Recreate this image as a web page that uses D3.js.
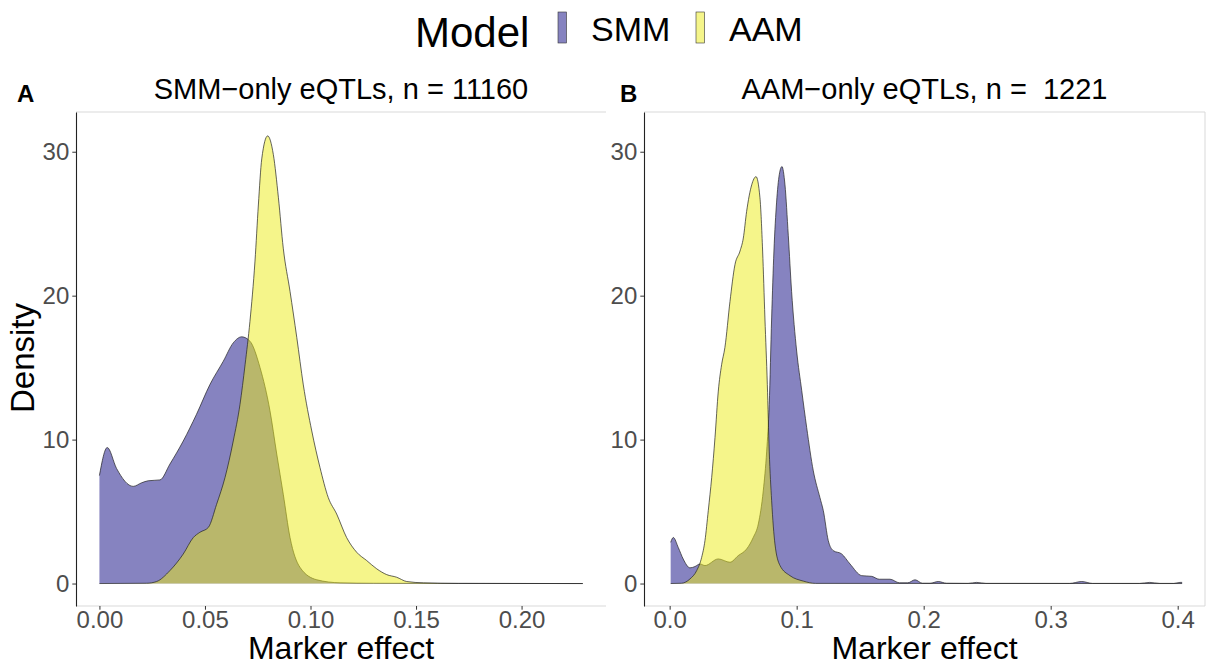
<!DOCTYPE html>
<html>
<head>
<meta charset="utf-8">
<script src="https://cdnjs.cloudflare.com/ajax/libs/d3/7.8.5/d3.min.js"></script>
<style>
  body { margin: 0; background: #fff; }
  text { font-family: "Liberation Sans", Arial, sans-serif; }
</style>
</head>
<body>
<script>
// series names and colours
var models = ["SMM", "AAM"];
var baseColors = ["#0D0781", "#EBEB15"];
var keyColors = ["#8683C0", "#F5F58A"];

// panel A: SMM-only eQTLs (marker effect, density)
var xA_smm = [0, 0.0037, 0.0081, 0.016, 0.02, 0.0231, 0.0287, 0.0334, 0.0397, 0.046, 0.0524, 0.0587, 0.0634, 0.0674, 0.0713, 0.0761, 0.0808, 0.084, 0.0871, 0.0903, 0.095, 0.103, 0.114, 0.13, 0.16, 0.229];
var dA_smm = [7.5, 9.45, 8.0, 6.75, 7.0, 7.14, 7.2, 8.3, 9.9, 11.76, 13.84, 15.45, 16.72, 17.14, 16.84, 15.0, 12.0, 9.0, 6.2, 3.2, 1.13, 0.26, 0.05, 0.02, 0.01, 0];
var xA_aam = [0, 0.0224, 0.0271, 0.0334, 0.0397, 0.0445, 0.0476, 0.0516, 0.0555, 0.0595, 0.0634, 0.0666, 0.069, 0.0713, 0.0737, 0.0753, 0.0769, 0.0797, 0.0824, 0.0848, 0.0871, 0.0903, 0.0935, 0.0966, 0.1006, 0.1045, 0.1084, 0.1124, 0.1171, 0.1219, 0.1266, 0.1314, 0.1361, 0.1408, 0.1456, 0.1535, 0.17, 0.229];
var dA_aam = [0, 0.02, 0.14, 0.9, 2.05, 3.2, 3.56, 3.9, 5.5, 7.37, 9.9, 12.45, 15.2, 18.2, 22.4, 26.3, 29.5, 31.1, 29.8, 26.8, 23.3, 20.3, 17.1, 13.8, 10.6, 8.06, 5.98, 4.83, 3.2, 2.17, 1.6, 1.02, 0.62, 0.44, 0.14, 0.05, 0.01, 0];

// panel B: AAM-only eQTLs
var xB_smm = [0.0008, 0.0029, 0.0068, 0.0107, 0.016, 0.0199, 0.0239, 0.0278, 0.0383, 0.0475, 0.054, 0.0606, 0.0658, 0.0698, 0.0737, 0.0764, 0.0784, 0.0803, 0.0821, 0.0842, 0.0863, 0.0884, 0.0908, 0.0934, 0.096, 0.1, 0.104, 0.1079, 0.1131, 0.1183, 0.121, 0.1249, 0.1288, 0.1354, 0.142, 0.1512, 0.159, 0.165, 0.1735, 0.181, 0.1875, 0.1932, 0.199, 0.205, 0.2115, 0.218, 0.235, 0.2417, 0.249, 0.315, 0.3244, 0.333, 0.37, 0.378, 0.386, 0.397, 0.4018, 0.4035];
var dB_smm = [2.86, 3.2, 2.5, 1.7, 1.09, 1.18, 1.36, 1.25, 1.71, 1.48, 1.94, 2.4, 3.2, 4.14, 6.44, 9.2, 12.45, 18.45, 23.1, 26.5, 28.4, 28.97, 27.7, 24.2, 20.3, 16.15, 13.4, 10.83, 7.83, 5.98, 5.06, 2.98, 2.29, 2.06, 1.36, 0.55, 0.5, 0.3, 0.3, 0.05, 0.05, 0.26, 0.02, 0.02, 0.14, 0.02, 0.01, 0.08, 0.01, 0.01, 0.14, 0.01, 0.01, 0.08, 0.01, 0.01, 0.08, 0.08];
var xB_aam = [0.0008, 0.0094, 0.016, 0.0213, 0.0252, 0.0278, 0.0304, 0.0331, 0.0357, 0.0383, 0.0409, 0.0435, 0.0475, 0.0514, 0.0554, 0.058, 0.0606, 0.0646, 0.068, 0.0711, 0.0732, 0.075, 0.0769, 0.0784, 0.0803, 0.0829, 0.0869, 0.0947, 0.1052, 0.115, 0.4035];
var dB_aam = [0, 0.02, 0.32, 0.9, 1.82, 2.98, 5.06, 7.37, 10.14, 13.37, 15.2, 16.4, 19.6, 22.15, 23.1, 24.0, 25.85, 27.7, 28.27, 26.8, 23.1, 18.45, 13.84, 9.2, 5.75, 2.75, 1.25, 0.55, 0.17, 0.01, 0];

// tick labels
var yTicks = [0, 10, 20, 30];
var xTicksA = [0, 0.05, 0.10, 0.15, 0.20];
var xTicksB = [0, 0.1, 0.2, 0.3, 0.4];

var w = 1208, h = 667;
var svg = d3.select("body").append("svg")
    .attr("width", w)
    .attr("height", h);

function zip(xs, ys) {
    return xs.map(function(d, i) { return [d, ys[i]]; });
}

var panels = [
    { label: "A", title: "SMM\u2212only eQTLs, n = 11160", left: 76, right: 606,
      xdom: [-0.0111, 0.2400], ticks: xTicksA, fmt: d3.format(".2f"),
      series: [zip(xA_smm, dA_smm), zip(xA_aam, dA_aam)], labelX: 17, rightBorder: false },
    { label: "B", title: "AAM\u2212only eQTLs, n =  1221", left: 644, right: 1205,
      xdom: [-0.0202, 0.4215], ticks: xTicksB, fmt: d3.format(".1f"),
      series: [zip(xB_smm, dB_smm), zip(xB_aam, dB_aam)], labelX: 620, rightBorder: true }
];

var plotTop = 112, plotBottom = 606;

panels.forEach(function(p) {
    var x = d3.scaleLinear().domain(p.xdom).range([p.left, p.right]);
    var y = d3.scaleLinear().domain([-1.56, 32.76]).range([plotBottom, plotTop]);
    var g = svg.append("g");

    // panel border (light grey)
    g.append("line").attr("x1", p.left).attr("x2", p.right).attr("y1", plotTop).attr("y2", plotTop)
        .attr("stroke", "#d9d9d9").attr("stroke-width", 1);
    g.append("line").attr("x1", p.left).attr("x2", p.right).attr("y1", plotBottom).attr("y2", plotBottom)
        .attr("stroke", "#d9d9d9").attr("stroke-width", 1);
    if (p.rightBorder) {
        g.append("line").attr("x1", p.right).attr("x2", p.right).attr("y1", plotTop).attr("y2", plotBottom)
            .attr("stroke", "#d9d9d9").attr("stroke-width", 1);
    }

    var area = d3.area()
        .x(function(d) { return x(d[0]); })
        .y0(y(0))
        .y1(function(d) { return y(d[1]); })
        .curve(d3.curveMonotoneX);
    var line = d3.line()
        .x(function(d) { return x(d[0]); })
        .y(function(d) { return y(d[1]); })
        .curve(d3.curveMonotoneX);

    p.series.forEach(function(s, i) {
        g.append("path")
            .datum(s)
            .attr("d", area)
            .attr("fill", baseColors[i])
            .attr("fill-opacity", 0.5);
        g.append("path")
            .datum(s)
            .attr("d", line)
            .attr("fill", "none")
            .attr("stroke", "#222")
            .attr("stroke-width", 0.7);
    });

    // axes
    var yAxis = g.append("g")
        .attr("transform", "translate(" + p.left + ",0)")
        .call(d3.axisLeft(y).tickValues(yTicks).tickSize(3.7).tickSizeOuter(0).tickPadding(3));
    yAxis.select(".domain").attr("stroke", "#222").attr("stroke-width", 1.1);
    yAxis.selectAll(".tick line").attr("stroke", "#333");
    yAxis.selectAll(".tick text")
        .attr("fill", "#4d4d4d")
        .style("font-size", "24px")
        .style("font-family", "'Liberation Sans', Arial, sans-serif");

    var xAxis = g.append("g")
        .attr("transform", "translate(0," + plotBottom + ")")
        .call(d3.axisBottom(x).tickValues(p.ticks).tickFormat(p.fmt).tickSize(3.7).tickSizeOuter(0).tickPadding(1));
    xAxis.select(".domain").remove();
    xAxis.selectAll(".tick line").attr("stroke", "#333");
    xAxis.selectAll(".tick text")
        .attr("fill", "#4d4d4d")
        .style("font-size", "24px")
        .style("font-family", "'Liberation Sans', Arial, sans-serif");

    // titles
    g.append("text")
        .attr("x", (p.left + p.right) / 2)
        .attr("y", 99)
        .attr("text-anchor", "middle")
        .style("font-size", "29px")
        .style("white-space", "pre")
        .attr("xml:space", "preserve")
        .text(p.title);

    g.append("text")
        .attr("x", p.labelX)
        .attr("y", 102)
        .style("font-size", "24px")
        .style("font-weight", "bold")
        .text(p.label);

    g.append("text")
        .attr("x", (p.left + p.right) / 2)
        .attr("y", 659)
        .attr("text-anchor", "middle")
        .style("font-size", "32px")
        .text("Marker effect");
});

// y label
svg.append("text")
    .attr("transform", "translate(34,358) rotate(-90)")
    .attr("text-anchor", "middle")
    .style("font-size", "33px")
    .text("Density");

// legend
svg.append("text")
    .attr("x", 415)
    .attr("y", 47)
    .style("font-size", "42px")
    .text("Model");

var legendX = [558, 696];
models.forEach(function(m, i) {
    svg.append("rect")
        .attr("x", legendX[i])
        .attr("y", 12)
        .attr("width", 8.5)
        .attr("height", 31)
        .attr("fill", keyColors[i])
        .attr("stroke", "#333")
        .attr("stroke-width", 0.6);
    svg.append("text")
        .attr("x", legendX[i] + 33)
        .attr("y", 41)
        .style("font-size", "34px")
        .text(m);
});
</script>
</body>
</html>
